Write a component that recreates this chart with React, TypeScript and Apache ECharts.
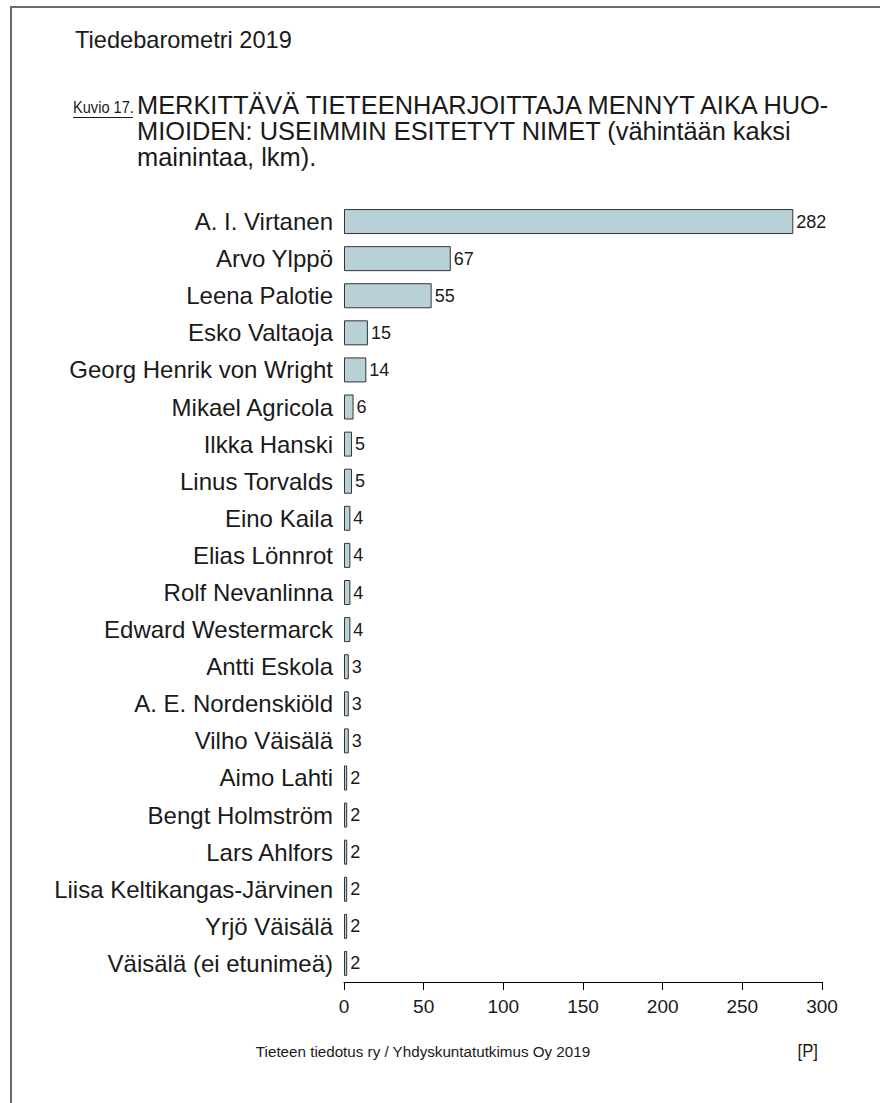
import React, { useEffect, useRef } from "react";
import * as echarts from "echarts";

const categories = [
  "A. I. Virtanen",
  "Arvo Ylppö",
  "Leena Palotie",
  "Esko Valtaoja",
  "Georg Henrik von Wright",
  "Mikael Agricola",
  "Ilkka Hanski",
  "Linus Torvalds",
  "Eino Kaila",
  "Elias Lönnrot",
  "Rolf Nevanlinna",
  "Edward Westermarck",
  "Antti Eskola",
  "A. E. Nordenskiöld",
  "Vilho Väisälä",
  "Aimo Lahti",
  "Bengt Holmström",
  "Lars Ahlfors",
  "Liisa Keltikangas-Järvinen",
  "Yrjö Väisälä",
  "Väisälä (ei etunimeä)",
];
const values = [282, 67, 55, 15, 14, 6, 5, 5, 4, 4, 4, 4, 3, 3, 3, 2, 2, 2, 2, 2, 2];
const xTicks = { min: 0, max: 300, interval: 50 };

const topLabel = "Tiedebarometri 2019";
const figureLabel = "Kuvio 17.";
const titleLines = [
  "MERKITTÄVÄ TIETEENHARJOITTAJA MENNYT AIKA HUO-",
  "MIOIDEN: USEIMMIN ESITETYT NIMET (vähintään kaksi",
  "mainintaa, lkm).",
];
const footer = "Tieteen tiedotus ry / Yhdyskuntatutkimus Oy 2019";
const footerTag = "[P]";

const FONT = "'Liberation Sans', Arial, Helvetica, sans-serif";
const TEXT = "#1a1a1a";

export default function App() {
  const ref = useRef<HTMLDivElement>(null);
  useEffect(() => {
    document.documentElement.style.overflow = "hidden";
    document.body.style.margin = "0";
    document.body.style.overflow = "hidden";
    if (!ref.current) return;
    const chart = echarts.init(ref.current, undefined, { renderer: "svg" });
    const txt = (
      text: string,
      x: number,
      y: number,
      size: number,
      align = "left",
      scaleX = 1
    ) => ({
      type: "text",
      x,
      y,
      scaleX,
      style: {
        text,
        fontSize: size,
        fontFamily: FONT,
        fill: TEXT,
        align,
        textAlign: align,
        verticalAlign: "middle",
        textVerticalAlign: "middle",
      },
    });
    chart.setOption({
      animation: false,
      backgroundColor: "#ffffff",
      grid: { left: 344, right: 58, top: 203, bottom: 121, containLabel: false },
      xAxis: {
        type: "value",
        min: xTicks.min,
        max: xTicks.max,
        interval: xTicks.interval,
        axisLine: { show: true, lineStyle: { color: "#000", width: 1 } },
        axisTick: { show: true, length: 8, lineStyle: { color: "#000" } },
        splitLine: { show: false },
        axisLabel: { fontSize: 19, fontFamily: FONT, color: TEXT, margin: 15 },
      },
      yAxis: {
        type: "category",
        data: categories,
        inverse: true,
        axisLine: { show: false },
        axisTick: { show: false },
        axisLabel: { fontSize: 24, fontFamily: FONT, color: TEXT, margin: 11 },
      },
      series: [
        {
          type: "bar",
          data: values,
          barWidth: 25,
          itemStyle: { color: "#b8d1d6", borderColor: "#333", borderWidth: 1 },
          label: {
            show: true,
            position: "right",
            distance: 3,
            fontSize: 18,
            fontFamily: FONT,
            color: TEXT,
          },
        },
      ],
      graphic: [
        {
          type: "polyline",
          shape: { points: [[11, 1103], [11, 7], [880, 7]] },
          style: { stroke: "#6b6b6b", lineWidth: 2, fill: "none" },
        },
        txt(topLabel, 75, 40, 23.6),
        txt(figureLabel, 73, 107, 17, "left", 0.86),
        {
          type: "line",
          shape: { x1: 73, y1: 117.5, x2: 133, y2: 117.5 },
          style: { stroke: TEXT, lineWidth: 1 },
        },
        txt(titleLines[0], 137, 105, 25.4),
        txt(titleLines[1], 137, 131, 25.4),
        txt(titleLines[2], 137, 157, 25.4),
        txt(footer, 423, 1051, 15.2, "center"),
        txt(footerTag, 818, 1051, 19, "right", 0.88),
      ],
    });
    return () => chart.dispose();
  }, []);
  return (
    <div
      ref={ref}
      style={{ position: "fixed", left: 0, top: 0, width: 880, height: 1103, background: "#fff" }}
    />
  );
}
